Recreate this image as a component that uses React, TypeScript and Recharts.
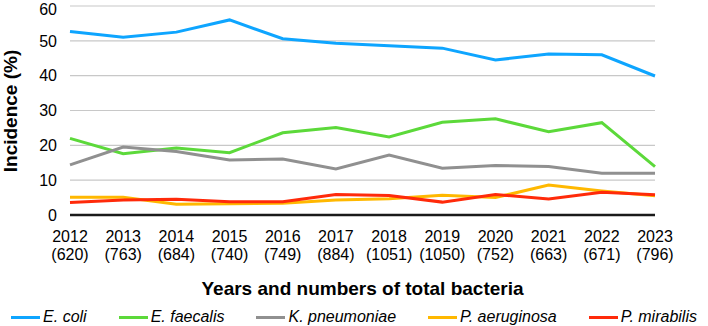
import React from 'react';
import { LineChart, Line, XAxis, YAxis, CartesianGrid, Legend } from 'recharts';

const years = ['2012', '2013', '2014', '2015', '2016', '2017', '2018', '2019', '2020', '2021', '2022', '2023'];
const totals = [620, 763, 684, 740, 749, 884, 1051, 1050, 752, 663, 671, 796];

const eColi = [52.7, 51.0, 52.5, 56.0, 50.6, 49.3, 48.6, 47.9, 44.5, 46.2, 46.0, 39.9];
const eFaecalis = [22.0, 17.6, 19.2, 17.9, 23.6, 25.1, 22.4, 26.6, 27.6, 23.9, 26.5, 13.9];
const kPneumoniae = [14.4, 19.5, 18.2, 15.8, 16.1, 13.2, 17.2, 13.4, 14.2, 13.9, 12.0, 12.0];
const pAeruginosa = [5.1, 5.1, 3.1, 3.2, 3.4, 4.3, 4.7, 5.7, 5.0, 8.6, 6.9, 5.5];
const pMirabilis = [3.6, 4.3, 4.5, 3.8, 3.8, 5.9, 5.6, 3.7, 5.9, 4.6, 6.5, 5.8];

const yTicks = [0, 10, 20, 30, 40, 50, 60];

const series = [
    { key: 'eColi', name: 'E. coli', color: '#0ea5ff' },
    { key: 'eFaecalis', name: 'E. faecalis', color: '#5cd93a' },
    { key: 'kPneumoniae', name: 'K. pneumoniae', color: '#909090' },
    { key: 'pAeruginosa', name: 'P. aeruginosa', color: '#ffb800' },
    { key: 'pMirabilis', name: 'P. mirabilis', color: '#ff2a0a' },
];

const data = years.map((year, i) => ({
    year,
    total: totals[i],
    eColi: eColi[i],
    eFaecalis: eFaecalis[i],
    kPneumoniae: kPneumoniae[i],
    pAeruginosa: pAeruginosa[i],
    pMirabilis: pMirabilis[i],
}));

const font = '"Liberation Sans", Arial, sans-serif';

function YearTick({ x, y, index }: any) {
    return (
        <g transform={`translate(${x},${y})`}>
            <text textAnchor="middle" fontSize={16} fill="#000" fontFamily={font}>
                <tspan x={0} dy={19}>{years[index]}</tspan>
                <tspan x={0} dy={18}>({totals[index]})</tspan>
            </text>
        </g>
    );
}

function YLabel() {
    return (
        <text
            transform="translate(17,111) rotate(-90)"
            textAnchor="middle"
            fontSize={19}
            fontWeight="bold"
            fill="#000"
            fontFamily={font}
        >
            Incidence (%)
        </text>
    );
}

function LegendContent() {
    return (
        <div style={{ display: 'flex', justifyContent: 'center', gap: 32, height: 24, alignItems: 'center', fontFamily: font }}>
            {series.map((s) => (
                <div key={s.key} style={{ display: 'flex', alignItems: 'center' }}>
                    <div style={{ width: 29, height: 3, background: s.color, marginRight: 3 }} />
                    <span style={{ fontStyle: 'italic', fontSize: 16, color: '#000', lineHeight: '18px' }}>{s.name}</span>
                </div>
            ))}
        </div>
    );
}

export default function App() {
    return (
        <div style={{ background: '#fff', width: 708, height: 326 }}>
            <style>{'body { margin: 0; }'}</style>
            <LineChart width={708} height={326} data={data} margin={{ top: 6, right: 53, left: 0, bottom: 0 }}>
                <CartesianGrid horizontal vertical={false} stroke="#c8c8c8" strokeWidth={1.2} />
                <XAxis
                    dataKey="year"
                    height={87}
                    tickLine={false}
                    axisLine={{ stroke: '#1a1a1a', strokeWidth: 2.5 }}
                    tick={<YearTick />}
                    interval={0}
                    label={{ value: 'Years and numbers of total bacteria', position: 'insideBottom', offset: 7, fontSize: 19, fontWeight: 'bold', fill: '#000', fontFamily: font }}
                />
                <YAxis
                    width={70}
                    domain={[0, 60]}
                    ticks={yTicks}
                    tickLine={false}
                    axisLine={false}
                    tickMargin={7}
                    tick={{ fontSize: 16, fill: '#000', fontFamily: font }}
                    label={<YLabel />}
                />
                <Legend verticalAlign="bottom" content={<LegendContent />} wrapperStyle={{ left: 0, width: 708, top: 305, bottom: 'auto' }} />
                {series.map((s) => (
                    <Line
                        key={s.key}
                        dataKey={s.key}
                        name={s.name}
                        stroke={s.color}
                        strokeWidth={3}
                        dot={false}
                        type="linear"
                        isAnimationActive={false}
                    />
                ))}
            </LineChart>
        </div>
    );
}
